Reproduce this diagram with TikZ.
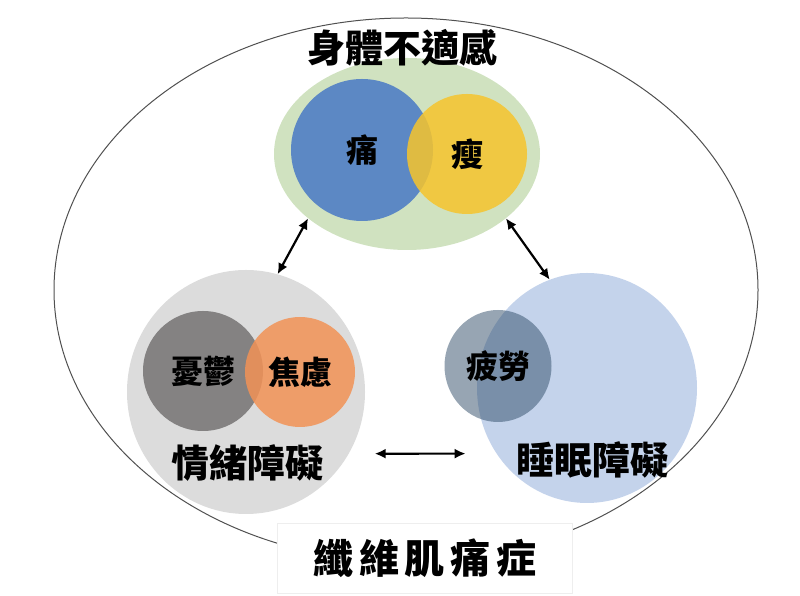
\documentclass[tikz,border=0pt]{standalone}
\usepackage{fontspec}
\newfontfamily\cjk{Noto Sans CJK TC}
\newfontfamily\cjkwide[LetterSpace=14]{Noto Sans CJK TC}
\usetikzlibrary{shapes.geometric,arrows.meta}
\definecolor{bodygreen}{RGB}{208,226,192}
\definecolor{painblue}{RGB}{92,136,196}
\definecolor{wearyyellow}{RGB}{246,196,44}
\definecolor{moodgray}{RGB}{220,220,220}
\definecolor{depressgray}{RGB}{132,130,130}
\definecolor{anxorange}{RGB}{242,146,86}
\definecolor{sleepblue}{RGB}{196,211,235}
\definecolor{fatigueslate}{RGB}{48,76,104}
\definecolor{rimgray}{RGB}{80,80,80}
\definecolor{boxedge}{RGB}{238,238,238}
\begin{document}
\begin{tikzpicture}[x=1pt,y=1pt,
  blob/.style={ellipse,inner sep=0pt,outer sep=0pt,text opacity=1,font=\cjk\bfseries\fontsize{32}{34}\selectfont},
  tag/.style={font=\cjk\bfseries\fontsize{38}{40}\selectfont,inner sep=0pt},
  link/.style={line width=2.2pt,{Latex[length=11pt,width=10pt]}-{Latex[length=11pt,width=10pt]}}]
\useasboundingbox (0,0) rectangle (800,596);
% body group
\node[blob,fill=bodygreen,minimum width=266,minimum height=192] (body) at (407,442) {};
\node[blob,fill=painblue,minimum size=142] (pain) at (362,446) {痛};
\node[blob,fill=wearyyellow,fill opacity=.85,minimum size=120] (weary) at (467,442) {瘦};
% mood group
\node[blob,fill=moodgray,minimum width=238,minimum height=244] (mood) at (246,204) {};
\node[blob,fill=depressgray,minimum size=120] (depress) at (203,225) {憂鬱};
\node[blob,fill=anxorange,fill opacity=.85,minimum size=110] (anxiety) at (300,224) {焦慮};
% sleep group
\node[blob,fill=sleepblue,minimum width=220,minimum height=230] (sleep) at (587,208) {};
\node[blob,fill=fatigueslate,fill opacity=.5,minimum width=107,minimum height=112] (fatigue) at (498,230) {疲勞};
% outer ring
\draw[rimgray,line width=1pt] (406,306) ellipse [x radius=352,y radius=272];
\node[draw=boxedge,fill=white,minimum width=295,minimum height=70,inner sep=0pt,font=\cjkwide\bfseries\fontsize{40}{42}\selectfont] (fm) at (425,38) {纖維肌痛症};
% labels
\node[tag] (bodytag) at (402,548) {身體不適感};
\node[tag] (moodtag) at (247,133) {情緒障礙};
\node[tag] (sleeptag) at (592,136) {睡眠障礙};
% arrows
\draw[link] (body.213) -- (mood.75);
\draw[link] (body.-33) -- (sleep.109);
\draw[link,shorten <=26pt,shorten >=31pt] (mood.-31) -- (sleep.216);
\end{tikzpicture}
\end{document}
